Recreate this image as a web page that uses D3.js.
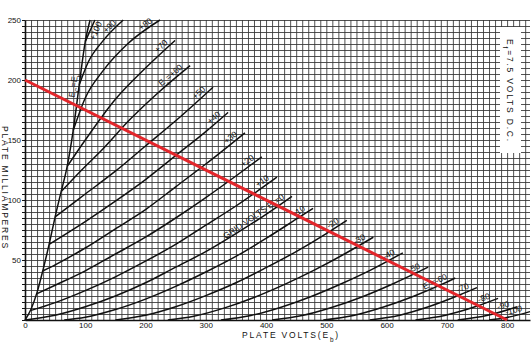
<!DOCTYPE html>
<html>
<head>
<script src="https://d3js.org/d3.v7.min.js"></script>
<style>
  body { margin: 0; background: #fff; }
  svg { display: block; font-family: "Liberation Sans", Arial, sans-serif; }
  .grid line { stroke: #333; stroke-width: 0.85; }
  .grid path { display: none; }
  .axis path, .axis line { stroke: #111; }
  .axis path { stroke-width: 1.6; }
  .axis text { font-size: 8px; fill: #111; font-family: "Liberation Sans", Arial, sans-serif; }
  .curve { fill: none; stroke: #111; stroke-width: 1.5; }
  .lbl { font-size: 8.5px; fill: #111; }
  .title { font-size: 8.5px; fill: #111; letter-spacing: 1.8px; }
</style>
</head>
<body>
<div id="chart"></div>
<script>
// plate characteristic, Ef = 7.5 V
const voltTicks = [0, 100, 200, 300, 400, 500, 600, 700, 800];
const maTicks = [50, 100, 150, 200, 250];

// [plate volts, plate mA]
const ecEqEb = [[0,0],[10,9],[20,23],[30,42],[40,63],[50,86],[60,107],[70,128],[80,158],[90,196],[100,232],[108,250]];
const ecP100 = [[100,232],[108,241],[116,250]];
const ecP90 = [[90,196],[105,215],[130,233],[163,250]];
const ecP80 = [[80,158],[100,185],[130,208],[170,230],[224,250]];
const ecP70 = [[70,128],[100,150],[150,184],[200,210],[249,233]];
const ecP60 = [[60,107],[90,123],[130,143],[174,167],[220,189],[274,212]];
const ecP50 = [[50,86],[100,105],[150,124],[200,145],[250,166],[312,194]];
const ecP40 = [[40,63],[100,82],[150,99],[200,117],[250,137],[300,157],[337,173]];
const ecP30 = [[30,41],[50,46],[100,60],[150,76],[200,92],[250,111],[300,130],[365,156]];
const ecP20 = [[20,22],[50,29],[100,41],[150,55],[200,69],[250,85],[300,102],[350,120],[393,136]];
const ecP10 = [[10,8],[50,14.5],[100,24.5],[150,36],[200,49],[250,63],[300,79],[350,95],[418,119]];
const ec0 = [[0,0],[50,3.9],[100,11],[150,20],[200,31],[250,44],[300,57],[350,72],[400,88],[443,103]];
const ecM10 = [[65,0],[100,2.3],[150,8.7],[200,17.4],[250,28],[300,40],[350,53],[400,68],[450,84],[478,93]];
const ecM20 = [[150,0],[200,3.9],[250,11],[300,20.3],[350,31],[400,43.6],[450,57],[500,72],[534,83]];
const ecM30 = [[237,0],[280,3.1],[330,9.9],[380,18.8],[430,29.5],[480,41.6],[530,55],[578,69]];
const ecM40 = [[325,0],[375,3.8],[425,10.7],[475,19.6],[525,30.2],[575,42],[627,56]];
const ecM50 = [[410,0],[460,3.7],[510,10.6],[560,19.4],[610,30],[669,44]];
const ecM60 = [[495,0],[545,3.8],[595,10.8],[645,19.8],[695,30.5],[714,35]];
const ecM70 = [[572,0],[622,4],[672,11.4],[722,21],[750,27]];
const ecM80 = [[648,0],[698,4],[748,11.2],[785,18]];
const ecM90 = [[718,0],[768,3.9],[817,11]];
const ecM100 = [[770,0],[800,2.1],[838,7]];

const loadLine = [[0,200],[800,0]];

const curves = [ecP100, ecP90, ecP80, ecP70, ecP60, ecP50, ecP40, ecP30, ecP20, ecP10,
                ec0, ecM10, ecM20, ecM30, ecM40, ecM50, ecM60, ecM70, ecM80, ecM90, ecM100];
const curveLabels = ['+100', '+90', '+80', '+70', 'E{c}=+60', '+50', '+40', '+30', '+20', '+10',
                     'GRID VOLTS  E{c}=0', '-10', '-20', '-30', '-40', '-50', 'E{c}=-60', '-70', '-80', '-90', '-100'];

const width = 532, height = 352;
const x = d3.scaleLinear().domain([0, 838]).range([25, 530]);
const y = d3.scaleLinear().domain([0, 250]).range([320, 20]);

const svg = d3.select('#chart').append('svg')
    .attr('width', width)
    .attr('height', height);

// fine grid, 10 V by 5 mA
svg.append('g')
    .attr('class', 'grid')
    .attr('transform', `translate(0,${y(0)})`)
    .call(d3.axisBottom(x).tickValues(d3.range(10, 839, 10)).tickSize(-(y(0) - y(250))).tickFormat(''));

svg.append('g')
    .attr('class', 'grid')
    .attr('transform', `translate(${x(0)},0)`)
    .call(d3.axisLeft(y).tickValues(d3.range(5, 251, 5)).tickSize(-(x(838) - x(0))).tickFormat(''));

// axes
svg.append('g')
    .attr('class', 'axis')
    .attr('transform', `translate(0,${y(0)})`)
    .call(d3.axisBottom(x).tickValues(voltTicks).tickSize(0).tickPadding(2).tickSizeOuter(0));

svg.append('g')
    .attr('class', 'axis')
    .attr('transform', `translate(${x(0)},0)`)
    .call(d3.axisLeft(y).tickValues(d3.range(0, 251, 5)).tickSize(3).tickPadding(1).tickSizeOuter(0)
        .tickFormat(d => maTicks.includes(d) ? d : ''));

const line = d3.line()
    .x(d => x(d[0]))
    .y(d => y(d[1]))
    .curve(d3.curveMonotoneX);

svg.append('path')
    .datum(ecEqEb)
    .attr('class', 'curve')
    .attr('stroke-width', 1.8)
    .attr('d', line);

svg.selectAll('.grid-curve')
    .data(curves)
    .enter()
    .append('path')
    .attr('class', 'curve grid-curve')
    .attr('d', line);

// text with {sub} parts
function writeText(sel, str) {
    str.split(/(\{[^}]*\})/).forEach(part => {
        if (!part) return;
        if (part[0] === '{') {
            sel.append('tspan').attr('baseline-shift', 'sub').attr('font-size', '75%').text(part.slice(1, -1));
        } else {
            sel.append('tspan').text(part);
        }
    });
}

curves.forEach((c, i) => {
    const p1 = [x(c[c.length - 2][0]), y(c[c.length - 2][1])];
    const p2 = [x(c[c.length - 1][0]), y(c[c.length - 1][1])];
    const ang = Math.atan2(p2[1] - p1[1], p2[0] - p1[0]);
    const back = i === 0 ? 0 : 7;
    const px = p2[0] - back * Math.cos(ang);
    const py = p2[1] - back * Math.sin(ang);
    const t = svg.append('text')
        .attr('class', 'lbl')
        .attr('text-anchor', 'end')
        .attr('transform', `translate(${px},${py}) rotate(${ang * 180 / Math.PI})`)
        .attr('dy', i === 0 ? 8 : -2.5);
    writeText(t, curveLabels[i]);
});

// Ec = Eb label along the boundary line
{
    const a = [x(ecEqEb[8][0]), y(ecEqEb[8][1])];
    const b = [x(ecEqEb[10][0]), y(ecEqEb[10][1])];
    const ang = Math.atan2(b[1] - a[1], b[0] - a[0]);
    const t = svg.append('text')
        .attr('class', 'lbl')
        .attr('text-anchor', 'middle')
        .attr('transform', `translate(${(a[0] + b[0]) / 2},${(a[1] + b[1]) / 2}) rotate(${ang * 180 / Math.PI})`)
        .attr('dy', -3);
    writeText(t, 'E{C}=E{b}');
}

// filament note
svg.append('rect')
    .attr('x', 500).attr('y', 27)
    .attr('width', 21).attr('height', 126)
    .attr('fill', '#fff');
const ef = svg.append('text')
    .attr('class', 'title')
    .attr('text-anchor', 'middle')
    .attr('transform', 'translate(507,91) rotate(90)');
writeText(ef, 'E{f}=7.5 VOLTS  D.C.');

// axis titles
const xt = svg.append('text')
    .attr('class', 'title')
    .attr('text-anchor', 'middle')
    .attr('transform', `translate(291,338)`);
writeText(xt, 'PLATE  VOLTS(E{b})');

svg.append('text')
    .attr('class', 'title')
    .attr('text-anchor', 'middle')
    .attr('transform', 'translate(1.5,188) rotate(90)')
    .text('PLATE  MILLIAMPERES');

// load line
svg.append('path')
    .datum(loadLine)
    .attr('fill', 'none')
    .attr('stroke', '#e3262b')
    .attr('stroke-width', 3)
    .attr('d', d3.line().x(d => x(d[0])).y(d => y(d[1])));
</script>
</body>
</html>
